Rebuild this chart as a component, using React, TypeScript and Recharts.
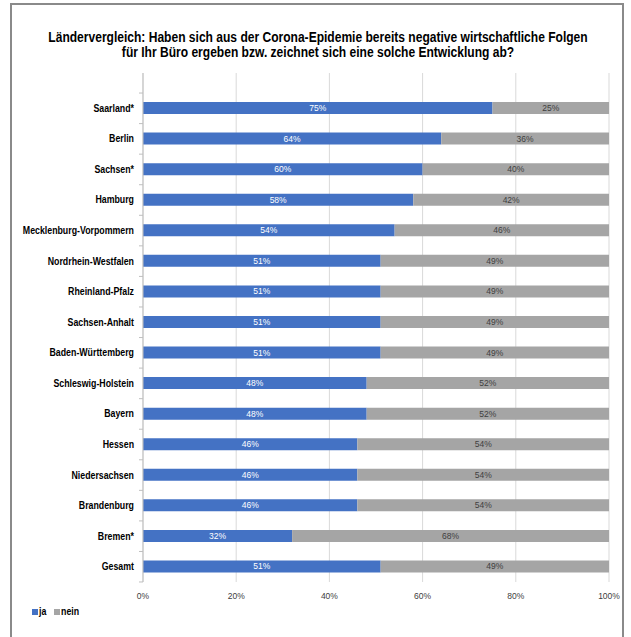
import React from 'react';
import { BarChart, Bar, XAxis, YAxis, CartesianGrid, LabelList } from 'recharts';

// Bundesländer as listed in the survey chart (top to bottom)
const laender = [
  'Saarland*',
  'Berlin',
  'Sachsen*',
  'Hamburg',
  'Mecklenburg-Vorpommern',
  'Nordrhein-Westfalen',
  'Rheinland-Pfalz',
  'Sachsen-Anhalt',
  'Baden-Württemberg',
  'Schleswig-Holstein',
  'Bayern',
  'Hessen',
  'Niedersachsen',
  'Brandenburg',
  'Bremen*',
  'Gesamt',
];
const jaValues = [75, 64, 60, 58, 54, 51, 51, 51, 51, 48, 48, 46, 46, 46, 32, 51];
const neinValues = [25, 36, 40, 42, 46, 49, 49, 49, 49, 52, 52, 54, 54, 54, 68, 49];
const xTicks = [0, 20, 40, 60, 80, 100];

const chartData = laender.map((land, i) => ({
  land,
  ja: jaValues[i],
  nein: neinValues[i],
}));

const BLUE = '#4472C4';
const GREY = '#A5A5A5';
const SANS = '"Liberation Sans", Arial, sans-serif';

const BAND = 30.5; // height of one category band in px

// category label, squeezed horizontally to mimic the condensed font of the original
const CategoryTick = (props: any) => {
  const { x, y, payload, index } = props;
  const last = index === laender.length - 1;
  return (
    <g>
      <line x1={x + 4} x2={x + 8} y1={y - BAND / 2} y2={y - BAND / 2} stroke="#bfbfbf" />
      {last && <line x1={x + 4} x2={x + 8} y1={y + BAND / 2} y2={y + BAND / 2} stroke="#bfbfbf" />}
      <g transform={`translate(${x - 1},${y}) scale(0.88,1)`}>
        <text x={0} y={0} dy={3.5} textAnchor="end" fontFamily={SANS} fontWeight="bold" fontSize={10} fill="#000">
          {payload.value}
        </text>
      </g>
    </g>
  );
};

const App: React.FC = () => {
  return (
    <div style={{ position: 'relative', width: 631, height: 637, background: '#fff', overflow: 'hidden' }}>
      <style>{'body{margin:0}'}</style>
      {/* frame */}
      <div
        style={{
          position: 'absolute',
          left: 10,
          top: 3,
          width: 614,
          height: 650,
          border: '2px solid #8a8a8a',
          boxSizing: 'border-box',
        }}
      />
      {/* title */}
      <div
        style={{
          position: 'absolute',
          left: 0,
          top: 30,
          width: 636,
          textAlign: 'center',
          fontFamily: SANS,
          fontWeight: 'bold',
          fontSize: 14,
          lineHeight: '15px',
          color: '#000',
          transform: 'scaleX(0.86)',
          transformOrigin: '318px 0',
          whiteSpace: 'nowrap',
        }}
      >
        Ländervergleich: Haben sich aus der Corona-Epidemie bereits negative wirtschaftliche Folgen
        <br />
        für Ihr Büro ergeben bzw. zeichnet sich eine solche Entwicklung ab?
      </div>

      <div style={{ position: 'absolute', left: 0, top: 0 }}>
        <BarChart
          width={631}
          height={637}
          data={chartData}
          layout="vertical"
          margin={{ top: 73, right: 22, bottom: 35, left: 0 }}
          barSize={12}
        >
          <CartesianGrid horizontal={false} stroke="#d9d9d9" />
          <XAxis
            type="number"
            domain={[0, 100]}
            ticks={xTicks}
            tickFormatter={(v: number) => `${v}%`}
            axisLine={false}
            tickLine={false}
            tickMargin={5}
            height={20}
            interval={0}
            tick={{ fontSize: 8.5, fill: '#404040', fontFamily: SANS }}
          />
          <YAxis
            type="category"
            dataKey="land"
            width={143}
            padding={{ top: 20, bottom: 0 }}
            axisLine={{ stroke: '#bfbfbf' }}
            tickLine={false}
            interval={0}
            tick={<CategoryTick />}
          />
          <Bar dataKey="ja" stackId="a" fill={BLUE} isAnimationActive={false}>
            <LabelList
              dataKey="ja"
              position="center"
              formatter={(v: any) => `${v}%`}
              fill="#ffffff"
              fontSize={8.5}
              fontFamily={SANS}
            />
          </Bar>
          <Bar dataKey="nein" stackId="a" fill={GREY} isAnimationActive={false}>
            <LabelList
              dataKey="nein"
              position="center"
              formatter={(v: any) => `${v}%`}
              fill="#404040"
              fontSize={8.5}
              fontFamily={SANS}
            />
          </Bar>
        </BarChart>
      </div>

      {/* legend */}
      <div
        style={{
          position: 'absolute',
          left: 32,
          top: 606,
          display: 'flex',
          alignItems: 'center',
          fontFamily: SANS,
          fontWeight: 'bold',
          fontSize: 10,
          color: '#000',
        }}
      >
        <span style={{ display: 'inline-block', width: 6, height: 6, background: BLUE, marginRight: 1 }} />
        <span style={{ marginRight: 7, display: 'inline-block', transform: 'scaleX(0.88)', transformOrigin: '0 0' }}>ja</span>
        <span style={{ display: 'inline-block', width: 6, height: 6, background: GREY, marginRight: 1 }} />
        <span style={{ display: 'inline-block', transform: 'scaleX(0.88)', transformOrigin: '0 0' }}>nein</span>
      </div>
    </div>
  );
};

export default App;
